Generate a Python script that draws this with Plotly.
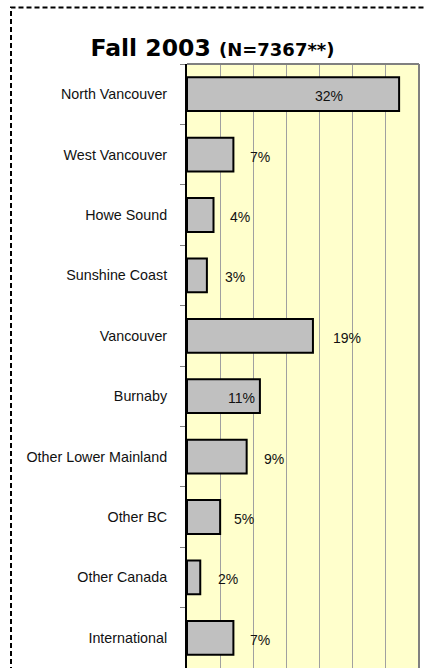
import plotly.graph_objects as go

categories = ["North Vancouver", "West Vancouver", "Howe Sound", "Sunshine Coast",
              "Vancouver", "Burnaby", "Other Lower Mainland", "Other BC",
              "Other Canada", "International"]
values = [32, 7, 4, 3, 19, 11, 9, 5, 2, 7]
value_labels = ["32%", "7%", "4%", "3%", "19%", "11%", "9%", "5%", "2%", "7%"]

# label horizontal offsets (px) from bar end, as placed in the original
label_dx = [-70, 27, 26, 28, 34, -18, 27, 24, 28, 27]

W, H = 425, 668
ML, MR, MT, MB = 187, 6, 64, 0

fig = go.Figure()
fig.add_trace(go.Bar(
    x=values, y=categories, orientation="h", width=0.56,
    marker=dict(color="#c0c0c0", line=dict(color="#000000", width=2)),
    hoverinfo="skip",
))

for v, c, t, dx in zip(values, categories, value_labels, label_dx):
    fig.add_annotation(x=v, y=c, text=t, showarrow=False, xshift=dx, yshift=-2,
                       font=dict(family="Liberation Sans, Arial", size=14, color="#111111"))

pw = W - ML - MR
ph = H - MT - MB
def px_to_paper_x(px):
    return (px - ML) / pw
def px_to_paper_y(py):
    return (H - MB - py) / ph

shapes = [
    # plot area top & right border (gray)
    dict(type="line", xref="paper", yref="paper", x0=0, x1=1, y0=1, y1=1,
         line=dict(color="#808080", width=2), layer="above"),
    dict(type="line", xref="paper", yref="paper", x0=1, x1=1, y0=0, y1=1,
         line=dict(color="#808080", width=2), layer="above"),
    # dashed outer border
    dict(type="rect", xref="paper", yref="paper",
         x0=px_to_paper_x(11), x1=px_to_paper_x(440),
         y0=px_to_paper_y(690), y1=px_to_paper_y(7.5),
         line=dict(color="#000000", width=2, dash="5px,3px"), layer="above"),
]

fig.update_layout(
    width=W, height=H,
    margin=dict(l=ML, r=MR, t=MT, b=MB),
    paper_bgcolor="#ffffff", plot_bgcolor="#ffffcc",
    showlegend=False,
    shapes=shapes,
    title=dict(
        text="<b>Fall 2003 <span style='font-size:18px'>(N=7367**)</span></b>",
        font=dict(family="DejaVu Sans", size=23.5, color="#000000"),
        x=0.5, xref="container", xanchor="center",
        y=1 - 48 / H, yref="container", yanchor="middle",
    ),
    xaxis=dict(range=[0, 35], dtick=5, showgrid=True, gridcolor="#a0a0a0", gridwidth=1,
               showticklabels=False, zeroline=False, showline=False, ticks="",
               fixedrange=True),
    yaxis=dict(autorange="reversed", showline=True, linecolor="#000000", linewidth=2,
               ticks="outside", tickson="boundaries", ticklen=5, tickcolor="#808080",
               tickwidth=1, ticklabelstandoff=15,
               tickfont=dict(family="Liberation Sans, Arial", size=14.3, color="#111111"),
               showgrid=False, fixedrange=True),
)

fig.write_html("out.html", config={"displayModeBar": False},
               post_script="document.body.style.margin='0';document.body.style.overflow='hidden';")
